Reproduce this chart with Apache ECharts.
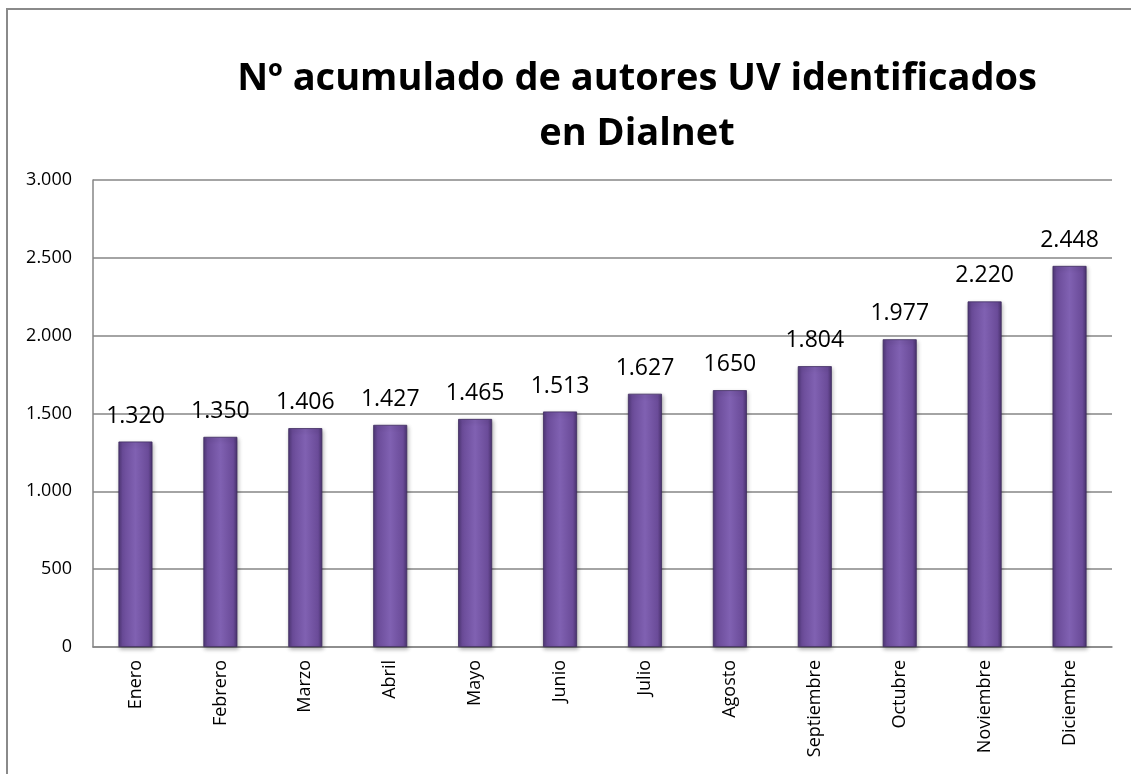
<!DOCTYPE html>
<html>
<head>
<meta charset="utf-8">
<script src="https://cdn.jsdelivr.net/npm/echarts@6/dist/echarts.min.js"></script>
<style>
html,body{margin:0;padding:0;background:#fff;}
#c{width:1131px;height:774px;}
</style>
</head>
<body>
<div id="c"></div>
<script>
var categories = ["Enero","Febrero","Marzo","Abril","Mayo","Junio","Julio","Agosto","Septiembre","Octubre","Noviembre","Diciembre"];
var values = [1320,1350,1406,1427,1465,1513,1627,1650,1804,1977,2220,2448];
var valueLabels = ["1.320","1.350","1.406","1.427","1.465","1.513","1.627","1650","1.804","1.977","2.220","2.448"];
var yTicks = ["0","500","1.000","1.500","2.000","2.500","3.000"];

var chart = echarts.init(document.getElementById('c'), null, {renderer:'canvas'});
var font = "'Open Sans', 'Noto Sans', sans-serif";
chart.setOption({
  animation:false,
  backgroundColor:'#fff',
  graphic:[{
    type:'rect', shape:{x:7,y:9,width:1140,height:800},
    style:{fill:'none',stroke:'#8a8a8a',lineWidth:2}, silent:true, z:-1
  }],
  title:{
    text:'Nº acumulado de autores UV identificados\nen Dialnet',
    left:632, textAlign:'center', top:47,
    textStyle:{fontFamily:font,fontWeight:'bold',fontSize:38,color:'#000',lineHeight:55}
  },
  grid:{left:93,right:19,top:180,bottom:127},
  xAxis:{
    type:'category', data:categories,
    axisLine:{lineStyle:{color:'#868686',width:1.5}},
    axisTick:{show:false},
    axisLabel:{rotate:90,fontFamily:font,fontSize:18,color:'#000',margin:13,interval:0}
  },
  yAxis:{
    type:'value', min:0, max:3000, interval:500,
    axisLine:{show:true,lineStyle:{color:'#868686',width:1.5}},
    axisTick:{show:false},
    splitLine:{lineStyle:{color:'#868686',width:1.5}},
    axisLabel:{fontFamily:font,fontSize:18,color:'#000',margin:21,
      formatter:function(v){return yTicks[Math.round(v/500)];}}
  },
  series:[{
    type:'bar', data:values, barWidth:34,
    itemStyle:{
      color:new echarts.graphic.LinearGradient(0,0,1,0,[
        {offset:0,color:'#4f3777'},
        {offset:0.12,color:'#6a4b98'},
        {offset:0.5,color:'#8061b2'},
        {offset:0.88,color:'#6a4b98'},
        {offset:1,color:'#4a336f'}
      ]),
      borderColor:'#3f2c60', borderWidth:0.8,
      shadowColor:'rgba(0,0,0,0.3)', shadowBlur:4, shadowOffsetX:1, shadowOffsetY:2
    },
    label:{show:true,position:'top',distance:14,fontFamily:font,fontSize:23,color:'#000',
      formatter:function(p){return valueLabels[p.dataIndex];}}
  }]
});
</script>
</body>
</html>
